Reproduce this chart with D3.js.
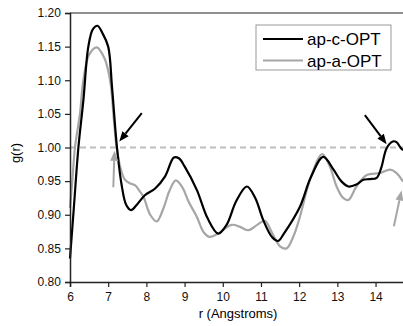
<!DOCTYPE html>
<html>
<head>
<meta charset="utf-8">
<script src="https://cdn.jsdelivr.net/npm/d3@7"></script>
<style>
  html, body { margin: 0; padding: 0; background: #fff; }
  svg { display: block; font-family: 'Liberation Sans', Arial, sans-serif; }
</style>
</head>
<body>
<div id="chart"></div>
<script>
// r values (Angstroms) and g(r) for each series
const rBlack = [6.0, 6.1, 6.22, 6.35, 6.48, 6.6, 6.72, 6.85, 7.0, 7.1, 7.23, 7.35, 7.47, 7.6, 7.75, 7.96, 8.23, 8.49, 8.72, 8.85, 9.0, 9.32, 9.6, 9.88, 10.1, 10.35, 10.63, 10.85, 11.06, 11.3, 11.45, 11.6, 12.02, 12.3, 12.63, 12.9, 13.1, 13.29, 13.5, 13.68, 13.85, 14.03, 14.15, 14.29, 14.45, 14.55, 14.65, 14.72];
const gBlack = [0.835, 0.91, 1.0, 1.07, 1.15, 1.176, 1.181, 1.17, 1.15, 1.09, 1.0, 0.945, 0.915, 0.907, 0.915, 0.929, 0.939, 0.957, 0.985, 0.984, 0.972, 0.937, 0.895, 0.872, 0.885, 0.92, 0.942, 0.925, 0.892, 0.866, 0.861, 0.872, 0.912, 0.955, 0.986, 0.967, 0.95, 0.942, 0.945, 0.952, 0.953, 0.955, 0.97, 0.999, 1.009, 1.008, 1.0, 0.996];

const rGray = [6.0, 6.06, 6.13, 6.26, 6.35, 6.5, 6.7, 6.9, 7.05, 7.15, 7.22, 7.32, 7.44, 7.6, 7.7, 7.8, 7.92, 8.1, 8.27, 8.45, 8.6, 8.77, 8.95, 9.1, 9.32, 9.5, 9.66, 9.9, 10.23, 10.45, 10.67, 10.9, 11.1, 11.3, 11.5, 11.67, 11.85, 12.02, 12.3, 12.6, 12.8, 12.98, 13.15, 13.29, 13.5, 13.77, 14.12, 14.38, 14.55, 14.72];
const gGray = [0.91, 0.95, 1.0, 1.05, 1.1, 1.138, 1.149, 1.133, 1.1, 1.04, 1.0, 0.97, 0.952, 0.946, 0.944, 0.937, 0.927, 0.9, 0.89, 0.91, 0.935, 0.951, 0.94, 0.92, 0.897, 0.874, 0.867, 0.873, 0.885, 0.882, 0.877, 0.885, 0.891, 0.872, 0.853, 0.85, 0.868, 0.897, 0.955, 0.99, 0.972, 0.942, 0.925, 0.922, 0.942, 0.959, 0.962, 0.967, 0.962, 0.949];

const seriesNames = ['ap-c-OPT', 'ap-a-OPT'];
const seriesColors = ['#000000', '#a6a6a6'];

const xTicks = [6, 7, 8, 9, 10, 11, 12, 13, 14];
const yTicks = [0.80, 0.85, 0.90, 0.95, 1.00, 1.05, 1.10, 1.15, 1.20];

// annotation arrows: [r0, g0, r1, g1], tip at the second point
const arrowsBlack = [[7.88, 1.051, 7.29, 1.009], [13.72, 1.048, 14.29, 1.005]];
const arrowsGray = [[7.134, 0.941, 7.165, 0.995], [14.48, 0.883, 14.68, 0.936]];

const width = 403, height = 326;
const x = d3.scaleLinear().domain([6, 14.75]).range([70, 404.2]);
const y = d3.scaleLinear().domain([0.8, 1.2]).range([282, 13]);

const svg = d3.select('#chart').append('svg')
  .attr('width', width)
  .attr('height', height);

// reference line at g(r) = 1
svg.append('line')
  .attr('x1', x(6)).attr('x2', width)
  .attr('y1', y(1)).attr('y2', y(1))
  .attr('stroke', '#bdbdbd')
  .attr('stroke-width', 2)
  .attr('stroke-dasharray', '6,4');

const line = d3.line()
  .x(d => x(d[0]))
  .y(d => y(d[1]))
  .curve(d3.curveCatmullRom.alpha(0.5));

const series = [d3.zip(rBlack, gBlack), d3.zip(rGray, gGray)];

// draw gray first so black sits on top
[1, 0].forEach(i => {
  svg.append('path')
    .datum(series[i])
    .attr('fill', 'none')
    .attr('stroke', seriesColors[i])
    .attr('stroke-width', 2.2)
    .attr('d', line);
});

// axes
const xAxis = svg.append('g')
  .attr('transform', 'translate(0,' + y(0.8) + ')');
xAxis.call(d3.axisBottom(x).tickValues(d3.range(6, 15, 0.5)).tickSize(3).tickFormat(''));
xAxis.call(d3.axisBottom(x).tickValues(xTicks).tickSize(5).tickFormat(d3.format('d')));

const yAxis = svg.append('g')
  .attr('transform', 'translate(' + x(6) + ',0)');
yAxis.call(d3.axisLeft(y).tickValues(d3.range(0.8, 1.2001, 0.025)).tickSize(3).tickFormat(''));
yAxis.call(d3.axisLeft(y).tickValues(yTicks).tickSize(5).tickFormat(d3.format('.2f')));

svg.selectAll('.domain').attr('stroke', '#222').attr('stroke-width', 1.5);
svg.selectAll('.tick line').attr('stroke', '#222').attr('stroke-width', 1.2);
svg.selectAll('.tick text').attr('font-size', 12).attr('fill', '#111')
  .attr('font-family', "'Liberation Sans', Arial, sans-serif");
xAxis.selectAll('.tick text').attr('dy', '0.95em');
yAxis.selectAll('.tick text').attr('dx', '-0.1em');

// top frame line
svg.append('line')
  .attr('x1', x(6)).attr('x2', width)
  .attr('y1', y(1.2)).attr('y2', y(1.2))
  .attr('stroke', '#222').attr('stroke-width', 1.2);

// axis titles
svg.append('text')
  .attr('x', 238).attr('y', 318)
  .attr('text-anchor', 'middle')
  .attr('font-size', 13)
  .text('r (Angstroms)');

svg.append('text')
  .attr('transform', 'translate(20,153) rotate(-90)')
  .attr('text-anchor', 'middle')
  .attr('font-size', 13)
  .text('g(r)');

// arrows
function drawArrow(a, color) {
  const x0 = x(a[0]), y0 = y(a[1]), x1 = x(a[2]), y1 = y(a[3]);
  const ang = Math.atan2(y1 - y0, x1 - x0);
  const len = 10, half = 4;
  const bx = x1 - len * Math.cos(ang), by = y1 - len * Math.sin(ang);
  svg.append('line')
    .attr('x1', x0).attr('y1', y0).attr('x2', bx).attr('y2', by)
    .attr('stroke', color).attr('stroke-width', 2);
  const px = -Math.sin(ang) * half, py = Math.cos(ang) * half;
  svg.append('path')
    .attr('d', `M${x1},${y1}L${bx + px},${by + py}L${bx - px},${by - py}Z`)
    .attr('fill', color);
}
arrowsBlack.forEach(a => drawArrow(a, '#000'));
arrowsGray.forEach(a => drawArrow(a, '#a6a6a6'));

// legend
const legend = svg.append('g').attr('transform', 'translate(256,25)');
legend.append('rect')
  .attr('width', 135).attr('height', 45)
  .attr('fill', '#fff')
  .attr('stroke', '#999').attr('stroke-width', 1);
seriesNames.forEach((name, i) => {
  const ly = 14 + i * 21.5;
  legend.append('line')
    .attr('x1', 7).attr('x2', 47)
    .attr('y1', ly).attr('y2', ly)
    .attr('stroke', seriesColors[i]).attr('stroke-width', 2);
  legend.append('text')
    .attr('x', 51).attr('y', ly + 6)
    .attr('font-size', 17)
    .text(name);
});
</script>
</body>
</html>
